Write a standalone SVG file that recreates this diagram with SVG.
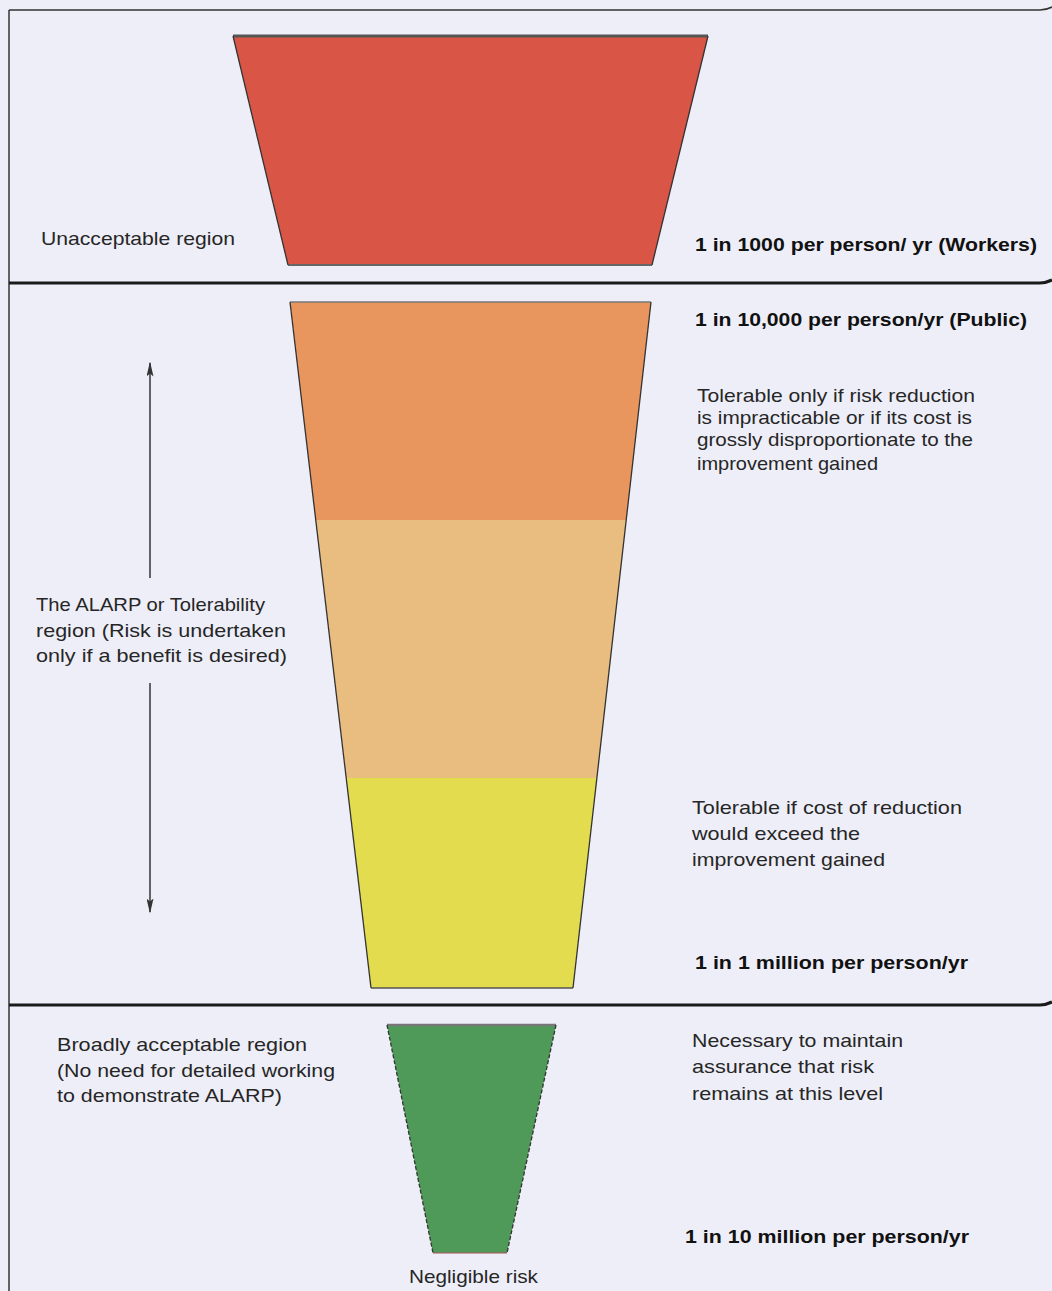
<svg xmlns="http://www.w3.org/2000/svg" width="1052" height="1291" viewBox="0 0 1052 1291">
<defs>
<style>
.t{font-family:"Liberation Sans",Arial,sans-serif;font-size:19px;fill:#262626}
.b{font-family:"Liberation Sans",Arial,sans-serif;font-size:19px;font-weight:bold;fill:#111}
.side{stroke:#333;stroke-width:1.3;fill:none}
.sep{stroke:#1a1a1a;stroke-width:3.2;fill:none}
.arr{stroke:#333;stroke-width:1.5;fill:none}
</style>
<marker id="ah" viewBox="0 0 10 10" refX="9" refY="5" markerWidth="15" markerHeight="7" markerUnits="userSpaceOnUse" orient="auto" preserveAspectRatio="none">
<path d="M0,0 L10,5 L0,10 L2,5 Z" fill="#333"/>
</marker>
</defs>
<rect width="1052" height="1291" fill="#EEEEF8"/>
<g id="frame">
<path d="M9,10 L1040,10 Q1046,10 1052,7" stroke="#333" stroke-width="1.6" fill="none"/>
<line x1="9" y1="10" x2="9" y2="1291" stroke="#333" stroke-width="1.5"/>
<path class="sep" d="M9,283 L1040,283 Q1046,283 1052,280"/>
<path class="sep" d="M9,1005 L1040,1005 Q1046,1005 1052,1002"/>
</g>
<g id="unacceptable">
<polygon points="233,36 708,36 652,265 288,265" fill="#D95546"/>
<line x1="233" y1="36" x2="708" y2="36" stroke="#555" stroke-width="3"/>
<line x1="288" y1="265" x2="652" y2="265" stroke="#666" stroke-width="2"/>
<line class="side" x1="233" y1="36" x2="288" y2="265"/>
<line class="side" x1="708" y1="36" x2="652" y2="265"/>
<text class="t" x="41" y="245" textLength="194" lengthAdjust="spacingAndGlyphs">Unacceptable region</text>
<text class="b" x="695" y="251" textLength="342" lengthAdjust="spacingAndGlyphs">1 in 1000 per person/ yr  (Workers)</text>
</g>
<g id="alarp">
<polygon points="290,302 651,302 626.2,520 315.7,520" fill="#E8965E"/>
<polygon points="315.7,520 626.2,520 596.9,778 346.2,778" fill="#E8BD7F"/>
<polygon points="346.2,778 596.9,778 573,988 371,988" fill="#E3DC4E"/>
<line x1="290" y1="302" x2="651" y2="302" stroke="#777" stroke-width="1.5"/>
<line x1="371" y1="988" x2="573" y2="988" stroke="#555" stroke-width="1.5"/>
<line class="side" x1="290" y1="302" x2="371" y2="988"/>
<line class="side" x1="651" y1="302" x2="573" y2="988"/>
<text class="b" x="695" y="326" textLength="332" lengthAdjust="spacingAndGlyphs">1 in 10,000 per person/yr (Public)</text>
<text class="t" x="697" y="402" textLength="278" lengthAdjust="spacingAndGlyphs">Tolerable only if risk reduction</text>
<text class="t" x="697" y="424" textLength="275" lengthAdjust="spacingAndGlyphs">is impracticable or if its cost is</text>
<text class="t" x="697" y="446" textLength="276" lengthAdjust="spacingAndGlyphs">grossly disproportionate to the</text>
<text class="t" x="697" y="470" textLength="181" lengthAdjust="spacingAndGlyphs">improvement gained</text>
<text class="t" x="36" y="611" textLength="229" lengthAdjust="spacingAndGlyphs">The ALARP or Tolerability</text>
<text class="t" x="36" y="637" textLength="250" lengthAdjust="spacingAndGlyphs">region (Risk is undertaken</text>
<text class="t" x="36" y="662" textLength="251" lengthAdjust="spacingAndGlyphs">only if a benefit is desired)</text>
<text class="t" x="692" y="814" textLength="270" lengthAdjust="spacingAndGlyphs">Tolerable if cost of reduction</text>
<text class="t" x="692" y="840" textLength="168" lengthAdjust="spacingAndGlyphs">would exceed the</text>
<text class="t" x="692" y="866" textLength="193" lengthAdjust="spacingAndGlyphs">improvement gained</text>
<text class="b" x="695" y="969" textLength="273" lengthAdjust="spacingAndGlyphs">1 in 1 million per person/yr</text>
</g>
<g id="broadly-acceptable">
<polygon points="387,1025 556,1025 507,1253 433,1253" fill="#4F9A58"/>
<line x1="387" y1="1025" x2="556" y2="1025" stroke="#777" stroke-width="2.5"/>
<line x1="433" y1="1253" x2="507" y2="1253" stroke="#a55" stroke-width="1.2"/>
<line class="side" x1="387" y1="1025" x2="433" y2="1253" stroke-dasharray="4 2"/>
<line class="side" x1="556" y1="1025" x2="507" y2="1253" stroke-dasharray="4 2"/>
<text class="t" x="57" y="1051" textLength="250" lengthAdjust="spacingAndGlyphs">Broadly acceptable region</text>
<text class="t" x="57" y="1077" textLength="278" lengthAdjust="spacingAndGlyphs">(No need for detailed working</text>
<text class="t" x="57" y="1102" textLength="225" lengthAdjust="spacingAndGlyphs">to demonstrate ALARP)</text>
<text class="t" x="692" y="1047" textLength="211" lengthAdjust="spacingAndGlyphs">Necessary to maintain</text>
<text class="t" x="692" y="1073" textLength="182" lengthAdjust="spacingAndGlyphs">assurance that risk</text>
<text class="t" x="692" y="1100" textLength="191" lengthAdjust="spacingAndGlyphs">remains at this level</text>
<text class="b" x="685" y="1243" textLength="284" lengthAdjust="spacingAndGlyphs">1 in 10 million per person/yr</text>
<text class="t" x="409" y="1283" textLength="129" lengthAdjust="spacingAndGlyphs">Negligible risk</text>
</g>
<g id="connectors">
<line class="arr" x1="150" y1="578" x2="150" y2="363" marker-end="url(#ah)"/>
<line class="arr" x1="150" y1="683" x2="150" y2="912" marker-end="url(#ah)"/>
</g>
</svg>
